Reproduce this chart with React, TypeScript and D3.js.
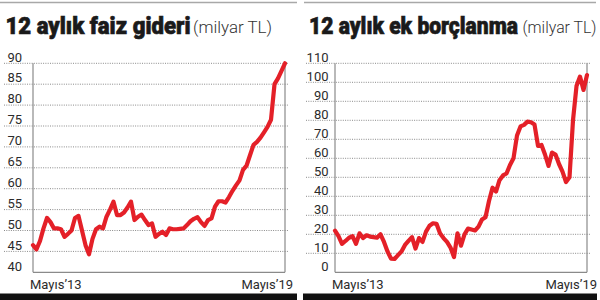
import React from 'react';
import * as d3 from 'd3';

// 12 aylık faiz gideri (milyar TL), monthly, Mayıs'13 .. Mayıs'19
const interestValues: number[] = [
  46.5, 45.5, 47.5, 50.5, 53, 52, 50.5, 50.5, 50.3, 48.5,
  49.2, 50, 53, 53.5, 50, 46.5, 44.3, 48, 50.3, 50.9,
  50.5, 53.3, 55, 56.9, 53.7, 53.7, 54.3, 55.5, 56.9, 52.5,
  53.3, 53.8, 52.5, 51.3, 51.7, 48.5, 49.2, 49.7, 48.9, 50.5,
  50.3, 50.3, 50.4, 50.5, 51.3, 52.2, 52.8, 53.2, 52, 51.1,
  52.5, 52.9, 55.7, 57, 57, 56.7, 58, 59.5, 60.8, 62,
  64.5, 65.5, 68, 70.5, 71.2, 72.2, 73.5, 74.8, 76.5, 85,
  86.4, 88.2, 90,
];

// 12 aylık ek borçlanma (milyar TL), monthly, Mayıs'13 .. Mayıs'19
const borrowingValues: number[] = [
  21.9, 19, 15, 16.5, 18.2, 19, 15, 20.5, 18, 19.5,
  18.8, 18.5, 18.2, 20, 16, 11, 7.2, 7, 9, 11,
  14.4, 16.5, 18.5, 12.5, 18, 16, 21.4, 24.5, 25.8, 25.5,
  20.5, 18, 16, 13, 8, 20.5, 14, 20, 23, 22.5,
  22, 24, 27.8, 29, 37.5, 44.5, 42.5, 48.5, 51, 52,
  56.5, 60, 72, 76.8, 77.6, 79.3, 79, 77.8, 66.5, 67,
  62, 56, 63, 62, 57, 53, 47.5, 50, 80, 98,
  103, 96, 103.8,
];

const interestTicks: number[] = [40, 45, 50, 55, 60, 65, 70, 75, 80, 85, 90];
const borrowingTicks: number[] = [0, 10, 20, 30, 40, 50, 60, 70, 80, 90, 100, 110];
const xTickLabels: string[] = ['Mayıs’13', 'Mayıs’19'];

const RED = '#e42028';
const GRID = '#8a8a8a';
const AXIS = '#8a8a8a';
const TEXT = '#2b2b2b';
const FONT = "Roboto, 'Liberation Sans', sans-serif";

type PanelProps = {
  values: number[];
  ticks: number[];
  axisX: number;
  rightX: number;
  gridStart: number;
  gridEnd: number;
  labelRight: number;
  titleBold: string;
  titleLight: string;
  titleX: number;
  boldLen: number;
  lightX: number;
  lightLen: number;
  ruleX0: number;
  ruleX1: number;
  barX0: number;
  barX1: number;
  xLabelStart: number;
  xLabelEnd: number;
};

const TOP = 63.3;
const BOTTOM = 272.3;

function Panel(p: PanelProps) {
  const x = d3.scaleLinear().domain([0, p.values.length - 1]).range([p.axisX, p.rightX]);
  const y = d3
    .scaleLinear()
    .domain([p.ticks[0], p.ticks[p.ticks.length - 1]])
    .range([BOTTOM, TOP]);
  const line = d3
    .line<number>()
    .x((_, i) => x(i))
    .y((d) => y(d))
    .curve(d3.curveLinear);

  return (
    <g>
      {/* top rule */}
      <line x1={p.ruleX0} x2={p.ruleX1} y1={2.5} y2={2.5} stroke="#a8a8a8" strokeWidth={1.6} />
      {/* title */}
      <g transform={`translate(${p.titleX},33.5) scale(1,1.12)`}>
        <text
          x={0}
          y={0}
          fontFamily={FONT}
          fontWeight={900}
          fontSize={21.5}
          fill="#1a1a1a"
          stroke="#1a1a1a"
          strokeWidth={0.6}
          textLength={p.boldLen}
          lengthAdjust="spacingAndGlyphs"
        >
          {p.titleBold}
        </text>
      </g>
      <g transform={`translate(${p.lightX},33) scale(1,1.06)`}>
        <text
          x={0}
          y={0}
          fontFamily={FONT}
          fontWeight={300}
          fontSize={15.5}
          fill="#333"
          textLength={p.lightLen}
          lengthAdjust="spacingAndGlyphs"
        >
          {p.titleLight}
        </text>
      </g>

      {/* gridlines */}
      {p.ticks.slice(1).map((t) => (
        <line
          key={t}
          x1={p.gridStart}
          x2={p.gridEnd}
          y1={y(t)}
          y2={y(t)}
          stroke={GRID}
          strokeWidth={1}
          strokeDasharray="1,1.3"
        />
      ))}
      {/* axes */}
      <line x1={p.axisX} x2={p.rightX} y1={BOTTOM} y2={BOTTOM} stroke={AXIS} strokeWidth={1.2} />
      <line x1={p.axisX} x2={p.axisX} y1={TOP} y2={BOTTOM} stroke={AXIS} strokeWidth={1.2} />
      <line x1={p.rightX} x2={p.rightX} y1={TOP} y2={BOTTOM} stroke={AXIS} strokeWidth={1.2} />

      {/* y tick labels */}
      {p.ticks.map((t) => (
        <text
          key={t}
          x={p.labelRight}
          y={y(t) - 1.8}
          textAnchor="end"
          fontFamily={FONT}
          fontSize={13}
          fill={TEXT}
        >
          {t}
        </text>
      ))}

      {/* x labels */}
      <text x={p.xLabelStart} y={288.5} fontFamily={FONT} fontSize={13} fill={TEXT}>
        {xTickLabels[0]}
      </text>
      <text
        x={p.xLabelEnd}
        y={288.5}
        textAnchor="end"
        fontFamily={FONT}
        fontSize={13}
        fill={TEXT}
      >
        {xTickLabels[1]}
      </text>

      {/* data line */}
      <path
        d={line(p.values) || ''}
        fill="none"
        stroke={RED}
        strokeWidth={4.2}
        strokeLinejoin="round"
        strokeLinecap="round"
      />

      {/* bottom bar */}
      <rect x={p.barX0} y={293.5} width={p.barX1 - p.barX0} height={6.5} fill="#111" />
    </g>
  );
}

export default function App() {
  return (
    <svg
      width={600}
      height={300}
      style={{ position: 'absolute', left: 0, top: 0, background: '#fff' }}
    >
      <rect x={0} y={0} width={600} height={300} fill="#fff" />
      <Panel
        values={interestValues}
        ticks={interestTicks}
        axisX={33}
        rightX={285}
        gridStart={4}
        gridEnd={288}
        labelRight={22}
        titleBold="12 aylık faiz gideri"
        titleLight="(milyar TL)"
        titleX={5.5}
        boldLen={185}
        lightX={193}
        lightLen={79}
        ruleX0={0}
        ruleX1={297}
        barX0={0}
        barX1={297}
        xLabelStart={30}
        xLabelEnd={293}
      />
      <Panel
        values={borrowingValues}
        ticks={borrowingTicks}
        axisX={335}
        rightX={587}
        gridStart={306}
        gridEnd={591}
        labelRight={328.5}
        titleBold="12 aylık ek borçlanma"
        titleLight="(milyar TL)"
        titleX={309}
        boldLen={209}
        lightX={522.5}
        lightLen={74}
        ruleX0={304}
        ruleX1={596}
        barX0={303}
        barX1={597}
        xLabelStart={332}
        xLabelEnd={597}
      />
    </svg>
  );
}
